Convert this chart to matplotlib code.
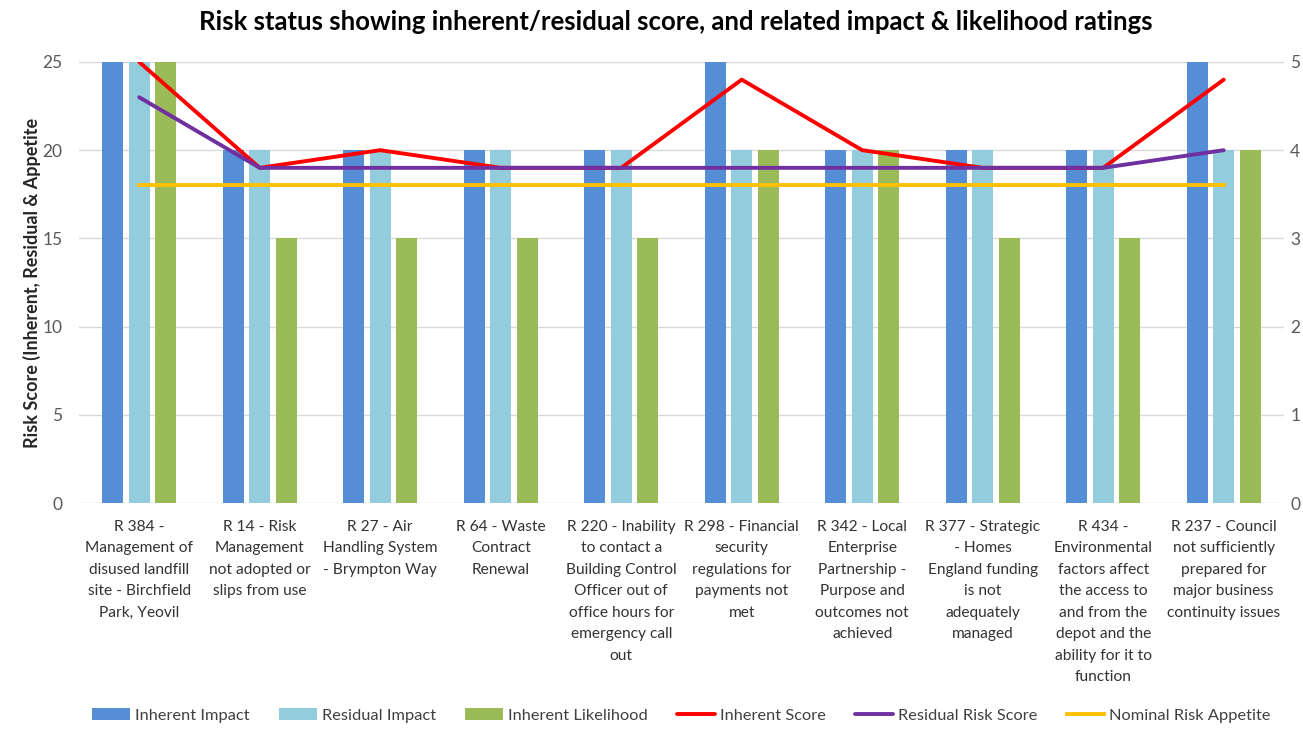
import matplotlib.pyplot as plt
import numpy as np

plt.rcParams['font.family'] = ['Lato', 'DejaVu Sans']

categories = [
    'R 384 -\nManagement of\ndisused landfill\nsite - Birchfield\nPark, Yeovil',
    'R 14 - Risk\nManagement\nnot adopted or\nslips from use',
    'R 27 - Air\nHandling System\n- Brympton Way',
    'R 64 - Waste\nContract\nRenewal',
    'R 220 - Inability\nto contact a\nBuilding Control\nOfficer out of\noffice hours for\nemergency call\nout',
    'R 298 - Financial\nsecurity\nregulations for\npayments not\nmet',
    'R 342 - Local\nEnterprise\nPartnership -\nPurpose and\noutcomes not\nachieved',
    'R 377 - Strategic\n- Homes\nEngland funding\nis not\nadequately\nmanaged',
    'R 434 -\nEnvironmental\nfactors affect\nthe access to\nand from the\ndepot and the\nability for it to\nfunction',
    'R 237 - Council\nnot sufficiently\nprepared for\nmajor business\ncontinuity issues',
]

# ratings (right axis, 0-5)
inherent_impact = [5, 4, 4, 4, 4, 5, 4, 4, 4, 5]
residual_impact = [5, 4, 4, 4, 4, 4, 4, 4, 4, 4]
inherent_likelihood = [5, 3, 3, 3, 3, 4, 4, 3, 3, 4]

# scores (left axis, 0-25)
inherent_score = [25, 19, 20, 19, 19, 24, 20, 19, 19, 24]
residual_score = [23, 19, 19, 19, 19, 19, 19, 19, 19, 20]
risk_appetite = [18, 18, 18, 18, 18, 18, 18, 18, 18, 18]

x = np.arange(len(categories))

fig = plt.figure(figsize=(13.03, 7.31), dpi=100)
ax = fig.add_axes([0.0606, 0.3119, 0.9248, 0.6033])
ax2 = ax.twinx()

# bars on the right axis, kept underneath the lines
ax2.set_zorder(1)
ax.set_zorder(2)
ax.patch.set_visible(False)

w = 0.174
off = 0.22
ax2.bar(x - off, inherent_impact, w, color='#558ED5', label='Inherent Impact')
ax2.bar(x, residual_impact, w, color='#93CDDD', label='Residual Impact')
ax2.bar(x + off, inherent_likelihood, w, color='#9BBB59', label='Inherent Likelihood')

ax.plot(x, inherent_score, color='#FF0000', lw=2.8, label='Inherent Score', solid_capstyle='round')
ax.plot(x, residual_score, color='#7030A0', lw=2.8, label='Residual Risk Score', solid_capstyle='round')
ax.plot(x, risk_appetite, color='#FFC000', lw=2.8, label='Nominal Risk Appetite')

ax.set_xlim(-0.5, len(categories) - 0.5)
ax.set_ylim(0, 25)
ax.set_yticks(range(0, 26, 5))
ax2.set_ylim(0, 5)
ax2.set_yticks(range(0, 6))

ax2.set_axisbelow(True)
ax2.yaxis.grid(True, color='#d9d9d9', lw=1)

for a in (ax, ax2):
    for s in a.spines.values():
        s.set_visible(False)
    a.tick_params(length=0, labelsize=12.5, labelcolor='#595959')
ax.tick_params(axis='y', pad=12)
ax2.tick_params(axis='y', pad=4.5)

ax.set_xticks(x)
ax.set_xticklabels(categories, fontsize=11.2, color='#333333', linespacing=1.68)
ax.tick_params(axis='x', pad=12)

ax.set_ylabel('Risk Score (Inherent, Residual & Appetite', fontsize=13,
              fontweight='bold', color='#262626', labelpad=1)

fig.suptitle('Risk status showing inherent/residual score, and related impact & likelihood ratings',
             x=0.519, y=0.987, fontsize=18.5, fontweight='bold', color='#000000')

h1, l1 = ax2.get_legend_handles_labels()
h2, l2 = ax.get_legend_handles_labels()
fig.legend(h1 + h2, l1 + l2, loc='center', bbox_to_anchor=(0.523, 0.021), ncol=6,
           frameon=False, fontsize=11.8, handlelength=2.3, handletextpad=0.3,
           columnspacing=1.8, labelcolor='#404040')

fig.savefig('out.png', dpi=100)
